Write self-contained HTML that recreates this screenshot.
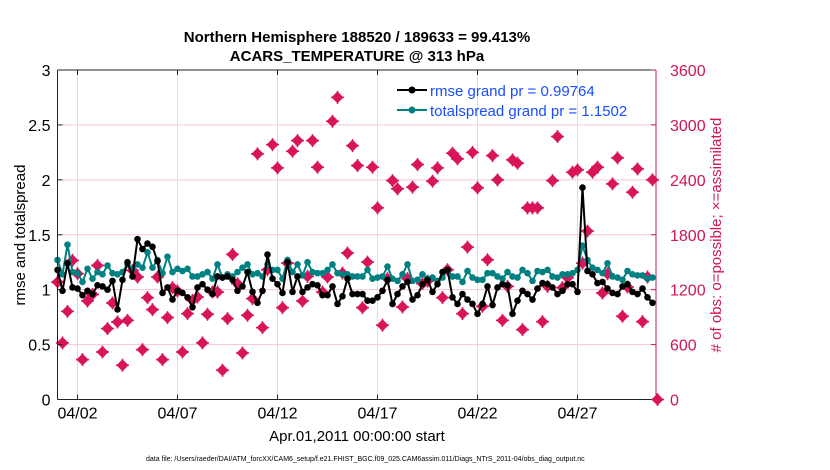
<!DOCTYPE html>
<html><head><meta charset="utf-8"><style>
body{margin:0;background:#fff;}
svg{display:block;font-family:"Liberation Sans",sans-serif;}
</style></head><body>
<svg id="chart" width="830" height="470" viewBox="0 0 830 470" xmlns="http://www.w3.org/2000/svg">
<rect width="830" height="470" fill="#fff"/>
<text x="357" y="42" text-anchor="middle" font-size="15" font-weight="bold">Northern Hemisphere 188520 / 189633 = 99.413%</text>
<text x="357" y="61" text-anchor="middle" font-size="15" font-weight="bold">ACARS_TEMPERATURE @ 313 hPa</text>
<g id="grid"></g>
<g id="series"></g>
<g id="axes"></g>
<text x="357" y="441" text-anchor="middle" font-size="15">Apr.01,2011 00:00:00 start</text>
<text transform="translate(25,235) rotate(-90)" text-anchor="middle" font-size="15">rmse and totalspread</text>
<text transform="translate(721,235) rotate(-90)" text-anchor="middle" font-size="15" fill="#d01556">
# of obs: o=possible; ×=assimilated</text>
<text x="146" y="461" font-size="7">data file: /Users/raeder/DAI/ATM_forcXX/CAM6_setup/f.e21.FHIST_BGC.f09_025.CAM6assim.011/Diags_NTrS_2011-04/obs_diag_output.nc</text>
<g>
<line x1="397" y1="90" x2="427" y2="90" stroke="#000" stroke-width="2"/>
<circle cx="412" cy="90" r="3.5" fill="#000"/>
<text x="430" y="96" font-size="15" fill="#1a4dff">rmse grand pr = 0.99764</text>
<line x1="397" y1="110" x2="427" y2="110" stroke="#008080" stroke-width="2"/>
<circle cx="412" cy="110" r="3.5" fill="#008080"/>
<text x="430" y="116" font-size="15" fill="#1a4dff">totalspread grand pr = 1.1502</text>
</g>
</svg>
<script>
const rmse = [1.18,0.99,1.24,1.02,1.01,0.95,0.99,0.96,1.04,1.03,1.0,1.08,0.82,1.09,1.25,1.12,1.46,1.37,1.42,1.39,1.26,0.97,1.02,0.91,0.99,0.97,0.93,0.84,1.02,1.05,1.0,0.96,1.12,1.11,1.12,1.09,0.99,1.03,1.16,0.98,
0.88,0.99,1.32,1.10,1.05,0.97,1.25,0.98,1.12,0.98,1.02,1.05,1.04,0.95,0.95,1.03,0.87,0.94,1.10,0.96,0.96,0.96,0.90,0.90,0.93,0.99,1.09,
0.87,0.96,1.03,1.07,0.91,0.95,1.05,1.09,0.98,1.05,1.16,1.18,0.93,0.87,0.96,0.91,0.87,0.78,0.87,1.03,0.86,1.02,1.05,1.04,0.78,0.90,0.99,0.96,
0.91,1.01,1.06,1.05,1.02,0.96,0.99,1.05,1.05,0.98,1.93,1.17,1.14,1.06,1.07,1.01,0.97,0.96,1.03,1.05,0.98,0.96,1.01,0.93,0.88];
const spread = [1.27,1.14,1.41,1.16,1.15,1.07,1.19,1.1,1.16,1.14,1.22,1.15,1.14,1.16,1.23,1.19,1.23,1.2,1.34,1.2,1.27,1.15,1.3,1.16,1.19,1.17,1.19,1.12,1.12,1.14,1.16,1.1,1.23,1.11,1.14,1.12,1.16,1.2,1.23,1.14,
1.15,1.12,1.23,1.18,1.18,1.10,1.27,1.16,1.23,1.13,1.25,1.16,1.15,1.15,1.18,1.23,1.15,1.14,1.14,1.12,1.12,1.12,1.18,1.10,1.11,1.12,1.21,
1.10,1.08,1.14,1.23,1.08,1.09,1.14,1.10,1.11,1.08,1.11,1.18,1.12,1.12,1.07,1.17,1.11,1.09,1.09,1.15,1.15,1.12,1.10,1.16,1.12,1.11,1.18,1.15,
1.08,1.17,1.16,1.18,1.12,1.11,1.14,1.14,1.15,1.18,1.40,1.27,1.20,1.18,1.15,1.24,1.12,1.11,1.09,1.17,1.14,1.13,1.13,1.10,1.11];
const nobs = [1283,618,963,1520,1375,436,1076,1149,1465,519,775,1054,847,374,865,1411,1338,545,1113,982,1338,436,895,1222,1185,519,938,1083,1120,618,931,1174,1174,320,884,1585,1265,508,920,1102,
2684,785,1418,2785,2531,1004,1490,2712,2829,1076,1345,2829,2538,1174,1338,3040,3301,1381,1600,2774,2556,1004,1501,2538,2094,811,1320,
2392,2302,1011,1320,2320,2567,1266,1294,2385,2531,1113,1418,2691,2629,938,1665,2700,2313,1018,1527,2665,2400,865,1236,2618,2582,764,2094,
2094,2094,851,1236,2392,2873,1222,1331,2483,2509,1490,1840,2483,2538,1163,1374,2356,2640,909,1229,2265,2520,851,1338,2400,0];
const xTickLabels = ["04/02","04/07","04/12","04/17","04/22","04/27"];
const xTickDays = [1,6,11,16,21,26];
const leftTicks = [0,0.5,1,1.5,2,2.5,3];
const rightTicks = [0,600,1200,1800,2400,3000,3600];
const stepDays = 0.25;

const NS="http://www.w3.org/2000/svg";
const L=57.5,R=656,T=70,B=399.5;
const xs=d=>L+(d/30)*(657.5-L);
const yl=v=>B-(v/3)*(B-T);
const yr=v=>B-(v/3600)*(B-T);
function mk(tag,attrs,parent){const e=document.createElementNS(NS,tag);for(const k in attrs)e.setAttribute(k,attrs[k]);parent.appendChild(e);return e;}
const grid=document.getElementById('grid'),ser=document.getElementById('series'),ax=document.getElementById('axes');
leftTicks.forEach(v=>{const g=mk('line',{x1:L,x2:R,y1:yl(v),y2:yl(v),stroke:'#f3c6d6','stroke-width':1},grid);

});
xTickDays.forEach(d=>{const g=mk('line',{x1:xs(d),x2:xs(d),y1:T,y2:B,stroke:'#dcdcdc','stroke-width':1},grid);

});
mk('line',{x1:L,x2:L,y1:T,y2:B,stroke:'#222','stroke-width':1},ax);
mk('line',{x1:L,x2:R,y1:B,y2:B,stroke:'#222','stroke-width':1},ax);
mk('line',{x1:L,x2:R,y1:T,y2:T,stroke:'#222','stroke-width':1},ax);
mk('line',{x1:R,x2:R,y1:T,y2:B,stroke:'#d01556','stroke-width':1},ax);
leftTicks.forEach(v=>{mk('line',{x1:L,x2:L+5,y1:yl(v),y2:yl(v),stroke:'#222'},ax);
const t=mk('text',{x:L-7,y:yl(v)+6,'text-anchor':'end','font-size':16},ax);t.textContent=String(v);

});
rightTicks.forEach(v=>{mk('line',{x1:R-5,x2:R,y1:yr(v),y2:yr(v),stroke:'#d01556'},ax);
const t=mk('text',{x:R+14,y:yr(v)+6,'font-size':16,fill:'#d01556'},ax);t.textContent=String(v);

});
xTickDays.forEach((d,i)=>{mk('line',{x1:xs(d),x2:xs(d),y1:B,y2:B-5,stroke:'#222'},ax);mk('line',{x1:xs(d),x2:xs(d),y1:T,y2:T+5,stroke:'#222'},ax);
const t=mk('text',{x:xs(d),y:B+19,'text-anchor':'middle','font-size':16},ax);t.textContent=xTickLabels[i];

});
nobs.forEach((v,i)=>{const x=xs(i*stepDays),y=yr(v);
const g=mk('g',{},ser);


mk('path',{d:`M${x-5},${y}L${x},${y-5}L${x+5},${y}L${x},${y+5}Z`,fill:'#d8145a',stroke:'#d8145a','stroke-width':1.5,'stroke-linejoin':'round'},g);
mk('path',{d:`M${x-6.5},${y}H${x+6.5}M${x},${y-6.5}V${y+6.5}`,stroke:'#d8145a','stroke-width':1.5},g);});
function line(arr,color,name){
const p=mk('polyline',{points:arr.map((v,i)=>xs(i*stepDays)+','+yl(v)).join(' '),fill:'none',stroke:color,'stroke-width':2},ser);


arr.forEach((v,i)=>{const c=mk('circle',{cx:xs(i*stepDays),cy:yl(v),r:3.3,fill:color},ser);

});}
line(spread,'#008080','totalspread');
line(rmse,'#000','rmse');
</script>
</body></html>
